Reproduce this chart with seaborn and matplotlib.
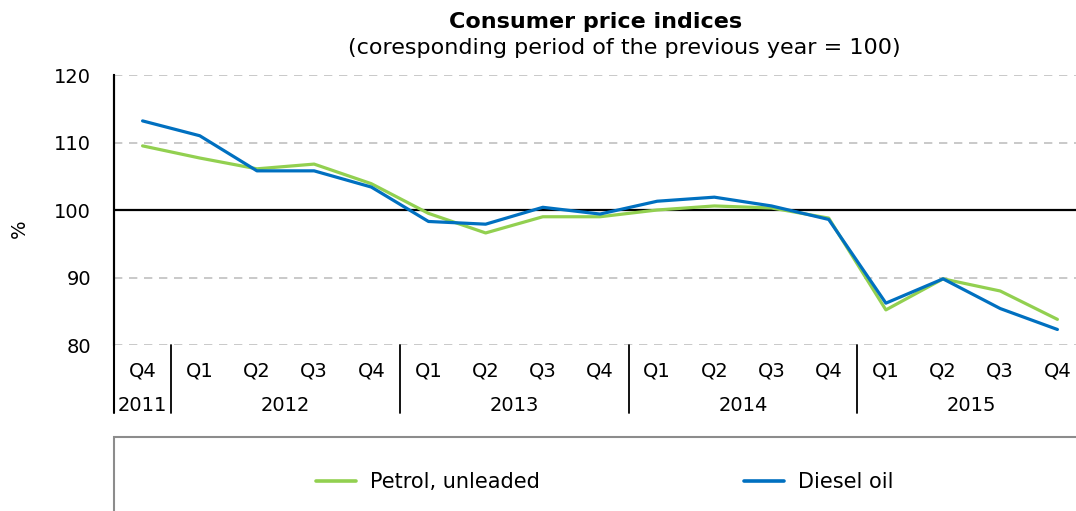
import matplotlib
matplotlib.use("Agg")
import matplotlib.pyplot as plt
import seaborn as sns
import pandas as pd
from matplotlib.patches import Rectangle

quarters = ["Q4", "Q1", "Q2", "Q3", "Q4", "Q1", "Q2", "Q3", "Q4",
            "Q1", "Q2", "Q3", "Q4", "Q1", "Q2", "Q3", "Q4"]
years = ["2011", "2012", "2013", "2014", "2015"]
year_sizes = [1, 4, 4, 4, 4]
petrol = [109.5, 107.7, 106.1, 106.8, 103.9, 99.5, 96.6, 99.0, 99.0,
          100.0, 100.6, 100.3, 98.8, 85.2, 89.8, 88.0, 83.8]
diesel = [113.2, 111.0, 105.8, 105.8, 103.4, 98.3, 97.9, 100.4, 99.4,
          101.3, 101.9, 100.6, 98.6, 86.2, 89.8, 85.4, 82.3]
series_names = ["Petrol, unleaded", "Diesel oil"]
colors = ["#92D050", "#0070C0"]

sns.set_style("white")
plt.rcParams["font.family"] = ["DejaVu Sans"]
plt.rcParams["text.color"] = "black"
plt.rcParams["axes.labelcolor"] = "black"
plt.rcParams["xtick.color"] = "black"
plt.rcParams["ytick.color"] = "black"

n = len(quarters)
df = pd.DataFrame({
    "idx": list(range(n)) * 2,
    "value": petrol + diesel,
    "series": [series_names[0]] * n + [series_names[1]] * n,
})

fig = plt.figure(figsize=(10.76, 5.11), dpi=100)
ax = fig.add_axes([114 / 1076, 1 - 345 / 511, 972 / 1076, 270 / 511])

sns.lineplot(data=df, x="idx", y="value", hue="series", palette=colors,
             hue_order=series_names, linewidth=2.3, ax=ax, legend=False,
             zorder=3)

ax.set_xlim(-0.5, n - 0.5)
ax.set_ylim(80, 120)
ax.set_yticks([80, 90, 100, 110, 120])
for v in [80, 90, 110, 120]:
    ax.axhline(v, color="#c0c0c0", lw=1.2, ls=(0, (5, 4)), zorder=1)
ax.axhline(100, color="black", lw=1.6, zorder=2)

for s in ["top", "right", "bottom"]:
    ax.spines[s].set_visible(False)
ax.spines["left"].set_color("black")
ax.spines["left"].set_linewidth(1.5)
ax.spines["left"].set_bounds(80, 120)
ax.tick_params(axis="y", length=6.5, width=1.3, color="black",
               labelcolor="black", labelsize=14, pad=10, direction="out")
ax.set_xticks(range(n))
ax.set_xticklabels(quarters)
ax.tick_params(axis="x", length=0, labelsize=14, pad=12, labelcolor="black")
ax.set_xlabel("")
ax.set_ylabel("%", fontsize=14, color="black")
ax.yaxis.set_label_coords(-0.088, 0.43)

trans = ax.get_xaxis_transform()
bottom = -(413 - 345) / 270
ax.plot([-0.5, -0.5], [1, bottom], transform=trans, color="black", lw=1.5,
        clip_on=False)
start = 0
for y, sz in zip(years, year_sizes):
    end = start + sz
    ax.plot([end - 0.5, end - 0.5], [0, bottom], transform=trans,
            color="black", lw=1.3, clip_on=False)
    ax.text((start + end - 1) / 2, -(405 - 345) / 270, y, transform=trans,
            ha="center", va="center", fontsize=14, color="black")
    start = end

fig.text(596 / 1076, 1 - 22 / 511, "Consumer price indices",
         ha="center", va="center", fontsize=16, fontweight="bold",
         color="black")
fig.text(624 / 1076, 1 - 48 / 511,
         "(coresponding period of the previous year = 100)",
         ha="center", va="center", fontsize=16, color="black")

fig.patches.append(Rectangle((114 / 1076, -0.2), 1.0, 0.2 + 1 - 437 / 511,
                             transform=fig.transFigure, fill=False,
                             edgecolor="#8c8c8c", lw=1.5))
handles = [plt.Line2D([], [], color=c, lw=2.6) for c in colors]
leg = fig.legend(handles, series_names, loc="center",
                 bbox_to_anchor=(605 / 1076, 1 - 482 / 511), ncol=2,
                 frameon=False, fontsize=15, handlelength=1.9,
                 handletextpad=0.7, columnspacing=9.8)
for t in leg.get_texts():
    t.set_color("black")

fig.savefig("out.png", dpi=100)
